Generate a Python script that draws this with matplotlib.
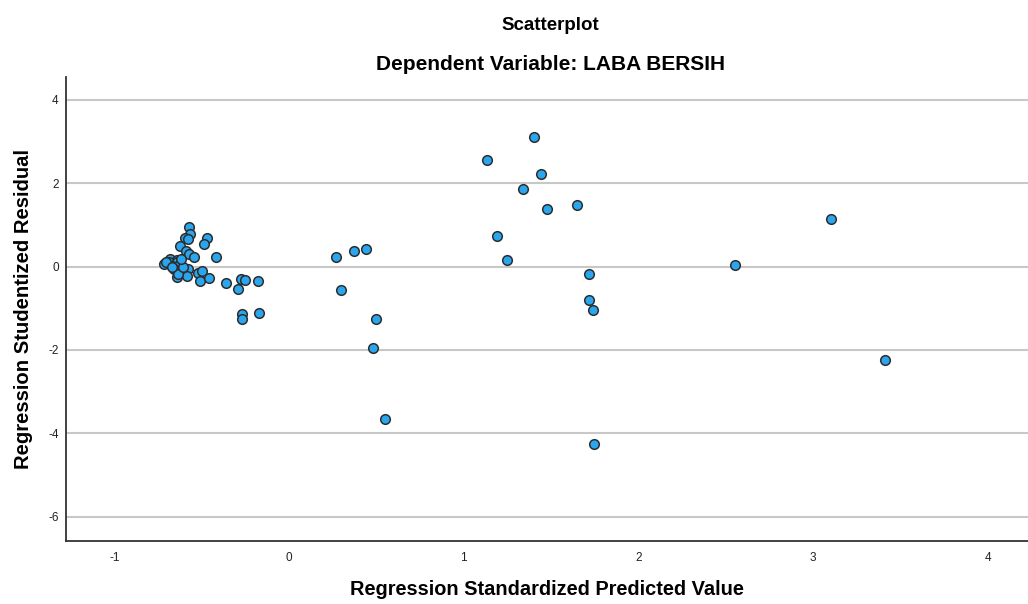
import matplotlib
matplotlib.use("Agg")
import matplotlib.pyplot as plt

plt.rcParams['font.family'] = ['Liberation Sans', 'DejaVu Sans']
plt.rcParams['axes.unicode_minus'] = False

pred = [-0.571, -0.567, -0.595, -0.578, -0.471, -0.486, -0.624, -0.592, -0.571, -0.546,
        -0.415, -0.681, -0.643, -0.714, -0.687, -0.643, -0.671, -0.633, -0.656, -0.618,
        -0.580, -0.639, -0.585, -0.519, -0.500, -0.509, -0.456, -0.363, -0.294, -0.276,
        -0.250, -0.176, -0.267, -0.267, -0.173, -0.704, -0.635, -0.607, -0.668, -0.618,
        0.271, 0.374, 0.442, 0.298, 0.498, 0.482, 0.549,
        1.133, 1.402, 1.444, 1.337, 1.476, 1.650, 1.192, 1.247, 1.717, 1.718, 1.741, 1.745,
        2.552, 3.102, 3.409]
resid = [0.94, 0.77, 0.69, 0.65, 0.69, 0.55, 0.49, 0.37, 0.29, 0.23,
         0.23, 0.19, 0.16, 0.07, 0.10, 0.12, 0.01, 0.01, -0.06, -0.11,
         -0.07, -0.25, -0.22, -0.15, -0.11, -0.35, -0.27, -0.39, -0.55, -0.29,
         -0.32, -0.35, -1.15, -1.27, -1.11, 0.10, -0.19, -0.02, -0.01, 0.19,
         0.22, 0.38, 0.41, -0.57, -1.25, -1.96, -3.67,
         2.55, 3.11, 2.23, 1.86, 1.39, 1.47, 0.74, 0.16, -0.17, -0.80, -1.05, -4.26,
         0.03, 1.14, -2.24]

xticks = [-1, 0, 1, 2, 3, 4]
yticks = [-6, -4, -2, 0, 2, 4]

fig = plt.figure(figsize=(10.28, 6.04), dpi=100)
ax = fig.add_axes([0.0639, 0.1048, 0.9361, 0.7672])

for yv in yticks:
    ax.axhline(yv, color='#c8c8c8', linewidth=1.5, zorder=1)

ax.scatter(pred, resid, s=48, facecolor='#2aa6ee', edgecolor='#2d2d2d',
           linewidth=1.1, zorder=3)

ax.set_xlim(-1.278, 4.229)
ax.set_ylim(-6.58, 4.54)
ax.set_xticks(xticks)
ax.set_yticks(yticks)
ax.tick_params(axis='both', length=0, labelsize=8.5, colors='#222222')
ax.tick_params(axis='y', pad=5)
ax.tick_params(axis='x', pad=8)

for side in ['top', 'right']:
    ax.spines[side].set_visible(False)
for side in ['left', 'bottom']:
    ax.spines[side].set_color('#333333')
    ax.spines[side].set_linewidth(1.3)

ax.set_xlabel('Regression Standardized Predicted Value', fontsize=14.4,
              fontweight='bold', labelpad=12)
ax.set_ylabel('Regression Studentized Residual', fontsize=14.6,
              fontweight='bold', labelpad=11)

fig.text(0.5354, 1 - 25 / 604, 'Scatterplot', ha='center', va='center',
         fontsize=13.5, fontweight='bold')
fig.text(0.5354, 1 - 64 / 604, 'Dependent Variable: LABA BERSIH', ha='center',
         va='center', fontsize=15, fontweight='bold')

fig.savefig('out.png', dpi=100)
